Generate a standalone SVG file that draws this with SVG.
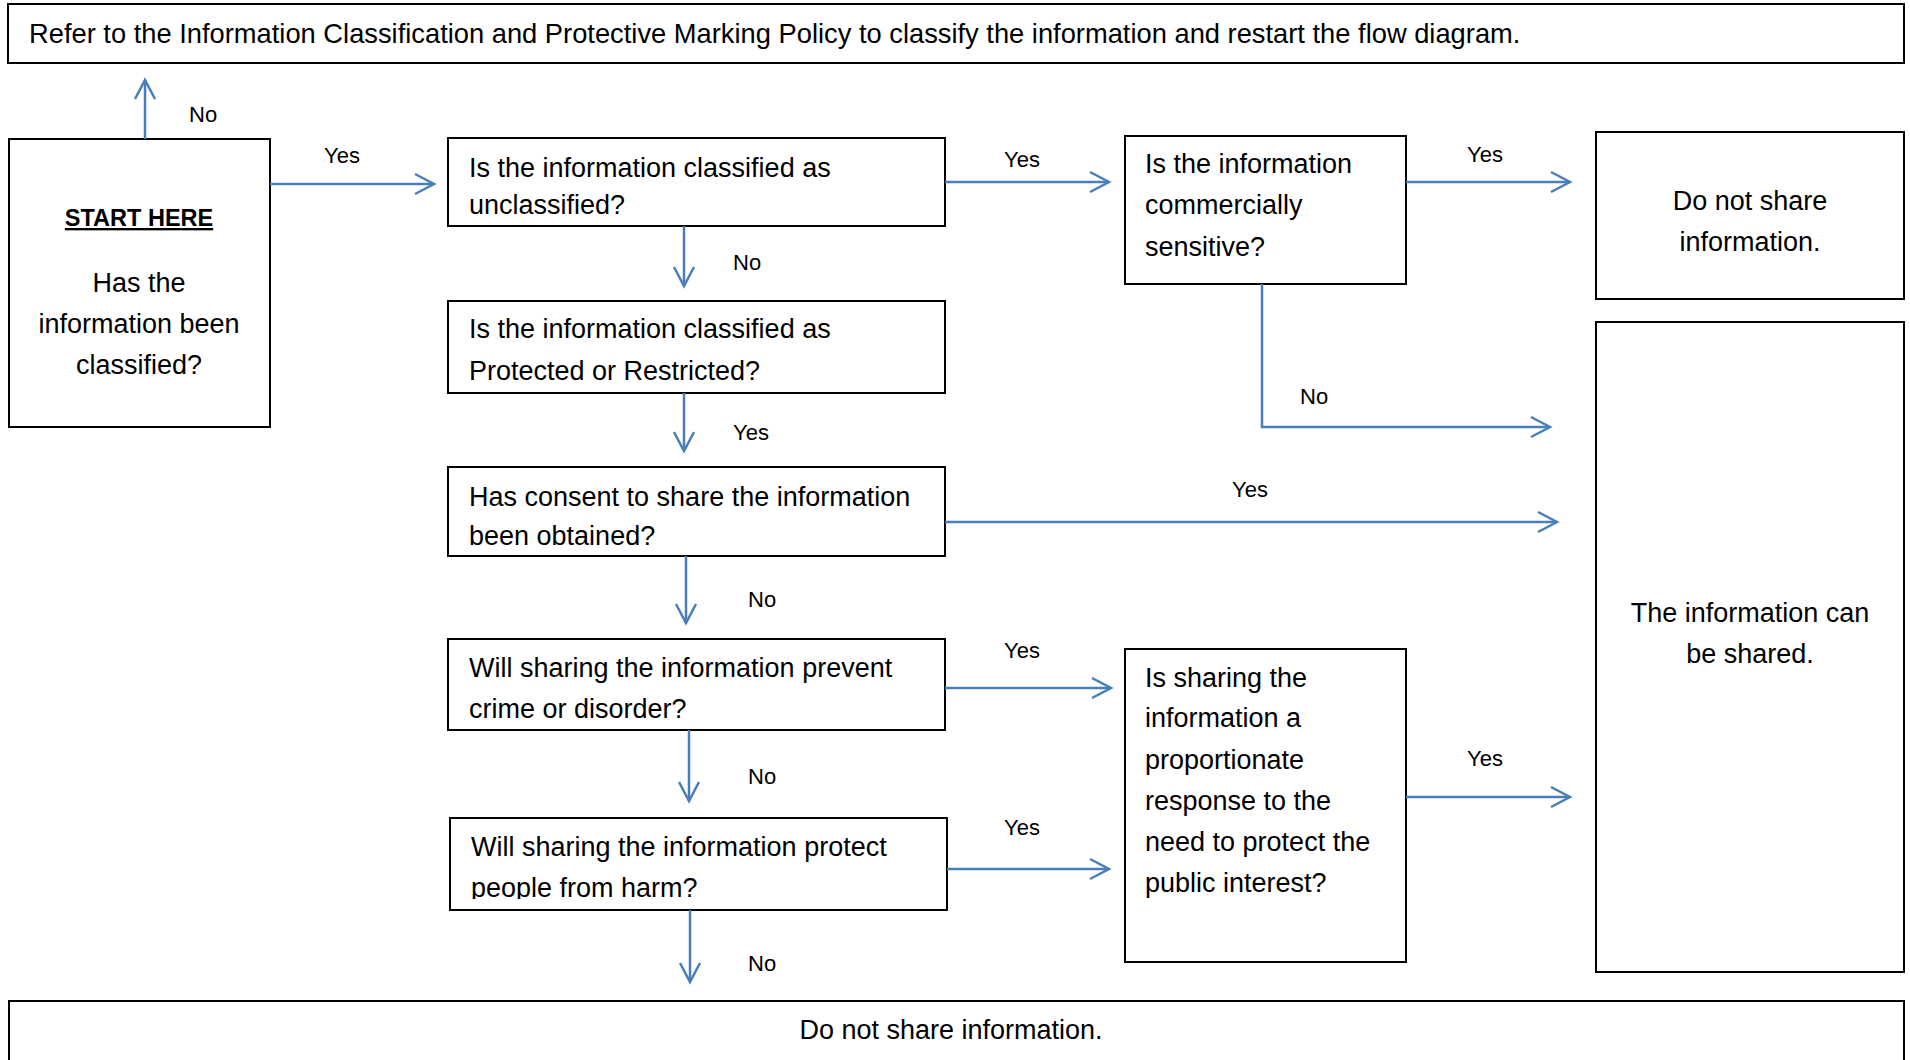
<svg xmlns="http://www.w3.org/2000/svg" width="1910" height="1060" viewBox="0 0 1910 1060">
<style>
.box{fill:#fff;stroke:#000;stroke-width:2}
.t{font-family:"Liberation Sans",Arial,sans-serif;font-size:27px;fill:#000}
.c{text-anchor:middle}
.lbl{font-family:"Liberation Sans",Arial,sans-serif;font-size:22px;fill:#000}
.con{fill:none;stroke:#4a7ebb;stroke-width:2.5;marker-end:url(#ah)}
</style>
<defs>
<marker id="ah" markerUnits="userSpaceOnUse" viewBox="-22 -13 25 26" refX="0" refY="0" markerWidth="25" markerHeight="26" orient="auto">
<path d="M-19,-10 L0,0 L-19,10" fill="none" stroke="#4a7ebb" stroke-width="2.5"/>
</marker>
<clipPath id="cb1"><rect x="448" y="138" width="497" height="78"/></clipPath>
<clipPath id="cb3"><rect x="448" y="467" width="497" height="80"/></clipPath>
<clipPath id="cb5"><rect x="450" y="818" width="497" height="81"/></clipPath>
</defs>
<rect width="1910" height="1060" fill="#fff"/>

<g id="top">
<rect class="box" x="8" y="4" width="1896" height="59"/>
<text class="t" x="29" y="43" style="font-size:27.3px">Refer to the Information Classification and Protective Marking Policy to classify the information and restart the flow diagram.</text>
</g>

<g id="start">
<rect class="box" x="9" y="139" width="261" height="288"/>
<text class="t c" x="139" y="226" style="font-size:23.5px;font-weight:bold;text-decoration:underline">START HERE</text>
<text class="t c" x="139" y="292">Has the</text>
<text class="t c" x="139" y="333">information been</text>
<text class="t c" x="139" y="374">classified?</text>
</g>

<g id="q-unclassified">
<rect class="box" x="448" y="138" width="497" height="88"/>
<g clip-path="url(#cb1)">
<text class="t" x="469" y="177">Is the information classified as</text>
<text class="t" x="469" y="214">unclassified?</text>
</g>
</g>

<g id="q-protected">
<rect class="box" x="448" y="301" width="497" height="92"/>
<text class="t" x="469" y="338">Is the information classified as</text>
<text class="t" x="469" y="380">Protected or Restricted?</text>
</g>

<g id="q-consent">
<rect class="box" x="448" y="467" width="497" height="89"/>
<g clip-path="url(#cb3)">
<text class="t" x="469" y="506">Has consent to share the information</text>
<text class="t" x="469" y="545">been obtained?</text>
</g>
</g>

<g id="q-crime">
<rect class="box" x="448" y="639" width="497" height="91"/>
<text class="t" x="469" y="677">Will sharing the information prevent</text>
<text class="t" x="469" y="718">crime or disorder?</text>
</g>

<g id="q-harm">
<rect class="box" x="450" y="818" width="497" height="92"/>
<g clip-path="url(#cb5)">
<text class="t" x="471" y="856">Will sharing the information protect</text>
<text class="t" x="471" y="897">people from harm?</text>
</g>
</g>

<g id="q-commercial">
<rect class="box" x="1125" y="136" width="281" height="148"/>
<text class="t" x="1145" y="173">Is the information</text>
<text class="t" x="1145" y="214">commercially</text>
<text class="t" x="1145" y="256">sensitive?</text>
</g>

<g id="q-proportionate">
<rect class="box" x="1125" y="649" width="281" height="313"/>
<text class="t" x="1145" y="687">Is sharing the</text>
<text class="t" x="1145" y="727">information a</text>
<text class="t" x="1145" y="769">proportionate</text>
<text class="t" x="1145" y="810">response to the</text>
<text class="t" x="1145" y="851">need to protect the</text>
<text class="t" x="1145" y="892">public interest?</text>
</g>

<g id="do-not-share-right">
<rect class="box" x="1596" y="132" width="308" height="167"/>
<text class="t c" x="1750" y="210">Do not share</text>
<text class="t c" x="1750" y="251">information.</text>
</g>

<g id="can-share">
<rect class="box" x="1596" y="322" width="308" height="650"/>
<text class="t c" x="1750" y="622">The information can</text>
<text class="t c" x="1750" y="663">be shared.</text>
</g>

<g id="do-not-share-bottom">
<rect class="box" x="9" y="1001" width="1895" height="100"/>
<text class="t c" x="951" y="1039">Do not share information.</text>
</g>

<g id="connectors">
<path class="con" d="M145,139 L145,80"/>
<path class="con" d="M270,184 L434,184"/>
<path class="con" d="M945,182 L1109,182"/>
<path class="con" d="M1406,182 L1570,182"/>
<path class="con" d="M1262,284 L1262,427 L1550,427"/>
<path class="con" d="M684,226 L684,286"/>
<path class="con" d="M684,393 L684,451"/>
<path class="con" d="M945,522 L1557,522"/>
<path class="con" d="M686,556 L686,623"/>
<path class="con" d="M945,688 L1111,688"/>
<path class="con" d="M689,730 L689,801"/>
<path class="con" d="M947,869 L1109,869"/>
<path class="con" d="M690,910 L690,982"/>
<path class="con" d="M1406,797 L1570,797"/>
</g>

<g id="labels">
<text class="lbl" x="189" y="122">No</text>
<text class="lbl" x="324" y="163">Yes</text>
<text class="lbl" x="1004" y="167">Yes</text>
<text class="lbl" x="1467" y="162">Yes</text>
<text class="lbl" x="733" y="270">No</text>
<text class="lbl" x="733" y="440">Yes</text>
<text class="lbl" x="1300" y="404">No</text>
<text class="lbl" x="1232" y="497">Yes</text>
<text class="lbl" x="748" y="607">No</text>
<text class="lbl" x="1004" y="658">Yes</text>
<text class="lbl" x="748" y="784">No</text>
<text class="lbl" x="1004" y="835">Yes</text>
<text class="lbl" x="1467" y="766">Yes</text>
<text class="lbl" x="748" y="971">No</text>
</g>
</svg>
